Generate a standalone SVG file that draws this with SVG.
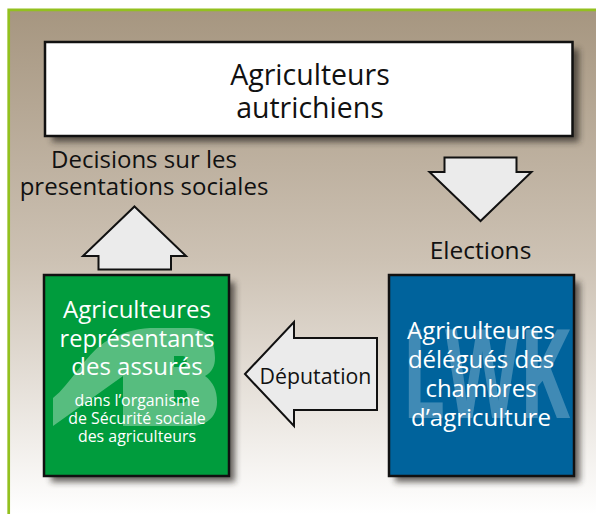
<svg xmlns="http://www.w3.org/2000/svg" width="596" height="514" viewBox="0 0 596 514">
<defs>
<linearGradient id="bg" x1="0" y1="0" x2="0" y2="1"><stop offset="0" stop-color="#a69680"/><stop offset="0.5" stop-color="#cdc2b4"/><stop offset="1" stop-color="#ffffff"/></linearGradient>
<filter id="sh" x="-10%" y="-10%" width="125%" height="125%"><feGaussianBlur stdDeviation="3"/></filter>
</defs>
<style>
.t{font-family:"Open Sans","Noto Sans","Liberation Sans",sans-serif;text-anchor:middle}
.k{fill:#111}.w{fill:#fff}
.box{stroke:#111;stroke-width:2.5}
.arrow{fill:#ebebeb;stroke:#111;stroke-width:2;stroke-linejoin:miter}
.shadow{fill:#2a2520;opacity:.7;filter:url(#sh)}
.mark{fill:#fff;opacity:.34}
.lwk{font-family:"Open Sans","Liberation Sans",sans-serif;font-weight:700;fill:#fff;opacity:.25}
</style>
<rect x="0" y="0" width="596" height="514" fill="#fff"/>
<rect x="8.700" y="10" width="587.300" height="504" fill="url(#bg)"/>
<path d="M8.700 514V9.800H596" fill="none" stroke="#93c01f" stroke-width="2.700"/>
<g id="node-top">
<rect class="shadow" x="52" y="49" width="527" height="93"/>
<rect class="box" x="45" y="42" width="527.500" height="94" fill="#fff"/>
<text class="t k" x="310" y="85" font-size="28.500">Agriculteurs</text>
<text class="t k" x="310" y="118" font-size="28.500">autrichiens</text>
</g>
<g id="node-green">
<rect class="shadow" x="51" y="282" width="184" height="200"/>
<rect class="box" x="44" y="275" width="185" height="201" fill="#009c3d"/>
<path class="mark" fill-rule="evenodd" d="M53 426V398C70 385 85 355 105 342C120 333 135 329 150 328H190C208 328 215 342 215 358C215 366 212 372 205 376C213 382 217 390 217 402C217 418 205 426 190 426H123V376ZM174 356V367H183C188 367 188 356 183 356ZM174 390V403H183C189 403 189 390 183 390Z"/>
<text class="t w" x="137" y="318" font-size="24">Agriculteures</text>
<text class="t w" x="137" y="347" font-size="23.600">représentants</text>
<text class="t w" x="137" y="375" font-size="24">des assurés</text>
<text class="t w" x="137" y="406" font-size="15.900">dans l’organisme</text>
<text class="t w" x="137" y="424" font-size="15.900">de Sécurité sociale</text>
<text class="t w" x="137" y="442" font-size="15.900">des agriculteurs</text>
</g>
<g id="node-blue">
<rect class="shadow" x="395" y="282" width="185" height="200"/>
<rect class="box" x="389" y="275" width="185" height="201" fill="#00639c"/>
<text class="lwk" x="402" y="418" font-size="123" textLength="168" lengthAdjust="spacingAndGlyphs">LWK</text>
<text class="t w" x="481" y="339" font-size="24">Agriculteures</text>
<text class="t w" x="481" y="368" font-size="24">délégués des</text>
<text class="t w" x="481" y="397" font-size="24">chambres</text>
<text class="t w" x="481" y="426" font-size="24">d’agriculture</text>
</g>
<g id="connectors">
<path class="arrow" d="M134.500 206.500 L186 256 H171 V269.500 H98.500 V256 H83 Z"/>
<path class="arrow" d="M480.500 221 L429.500 172 H444.500 V157.500 H516.500 V172 H531.500 Z"/>
<path class="arrow" d="M245 374 L294 322 V338 H377 V410 H294 V426 Z"/>
</g>
<g id="labels">
<text class="t k" x="144" y="168" font-size="24">Decisions sur les</text>
<text class="t k" x="144" y="195" font-size="24">presentations sociales</text>
<text class="t k" x="480.500" y="259" font-size="24.500">Elections</text>
<text class="t k" x="315.500" y="384" font-size="21.300">Députation</text>
</g>
</svg>
